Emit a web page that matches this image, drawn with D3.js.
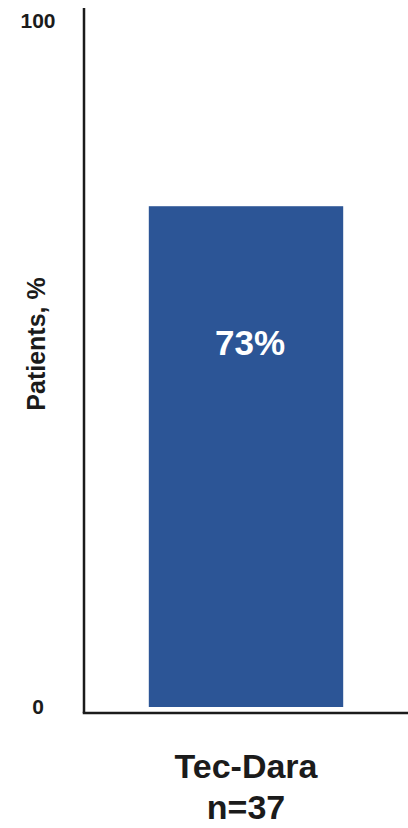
<!DOCTYPE html>
<html>
<head>
<meta charset="utf-8">
<script src="https://cdn.jsdelivr.net/npm/d3@7"></script>
<style>
  html, body { margin: 0; padding: 0; background: #ffffff; }
  svg { display: block; font-family: "Liberation Sans", Arial, sans-serif; }
</style>
</head>
<body>
<svg id="chart" width="408" height="828"></svg>
<script>
// Chart data
const categories = ["Tec-Dara"];
const sampleSizes = [37];
const values = [73];
const yTickValues = [0, 100];
const yAxisTitle = "Patients, %";

const svg = d3.select("#chart");
const W = 408, H = 828;
const axisX = 84;         // vertical axis position
const baseY = 713;        // horizontal axis line
const inkColor = "#1b1b1b";
const barColor = "#2c5596";

// Scales
const y = d3.scaleLinear().domain([0, 100]).range([707, 21]);
const x = d3.scaleBand()
  .domain(categories)
  .range([axisX, W])
  .paddingInner(0.4)
  .paddingOuter(0.2);

// Bars
svg.append("g")
  .selectAll("rect")
  .data(values)
  .join("rect")
  .attr("x", (d, i) => x(categories[i]))
  .attr("width", x.bandwidth())
  .attr("y", d => y(d))
  .attr("height", d => y(0) - y(d))
  .attr("fill", barColor);

// Value labels inside bars
svg.append("g")
  .selectAll("text")
  .data(values)
  .join("text")
  .attr("x", (d, i) => x(categories[i]) + x.bandwidth() / 2 + 4)
  .attr("y", 355)
  .attr("text-anchor", "middle")
  .attr("fill", "#ffffff")
  .attr("font-weight", "bold")
  .attr("font-size", 35)
  .text(d => d + "%");

// Y axis: ticks only, line drawn separately
const yAxis = d3.axisLeft(y)
  .tickValues(yTickValues)
  .tickSize(0)
  .tickFormat(d3.format("d"));

const yG = svg.append("g")
  .attr("transform", `translate(${axisX},0)`)
  .call(yAxis);
yG.select(".domain").remove();
yG.selectAll(".tick text")
  .attr("x", -46)
  .attr("text-anchor", "middle")
  .attr("fill", inkColor)
  .attr("font-family", "Liberation Sans, Arial, sans-serif")
  .attr("font-weight", "bold")
  .attr("font-size", 21);

// Axis lines
svg.append("line")
  .attr("x1", axisX).attr("x2", axisX)
  .attr("y1", 8).attr("y2", baseY)
  .attr("stroke", inkColor)
  .attr("stroke-width", 2.5);
svg.append("line")
  .attr("x1", axisX - 1.25).attr("x2", W)
  .attr("y1", baseY).attr("y2", baseY)
  .attr("stroke", inkColor)
  .attr("stroke-width", 2.5);

// Y axis title
svg.append("text")
  .attr("transform", `translate(45,${344}) rotate(-90)`)
  .attr("text-anchor", "middle")
  .attr("fill", inkColor)
  .attr("font-weight", "bold")
  .attr("font-size", 25)
  .text(yAxisTitle);

// Category labels with sample sizes
const catG = svg.append("g")
  .selectAll("text")
  .data(categories)
  .join("text")
  .attr("text-anchor", "middle")
  .attr("fill", inkColor)
  .attr("font-weight", "bold")
  .attr("font-size", 34);
catG.append("tspan")
  .attr("x", d => x(d) + x.bandwidth() / 2)
  .attr("y", 778)
  .text(d => d);
catG.append("tspan")
  .attr("x", d => x(d) + x.bandwidth() / 2)
  .attr("y", 819)
  .text((d, i) => "n=" + sampleSizes[i]);
</script>
</body>
</html>
